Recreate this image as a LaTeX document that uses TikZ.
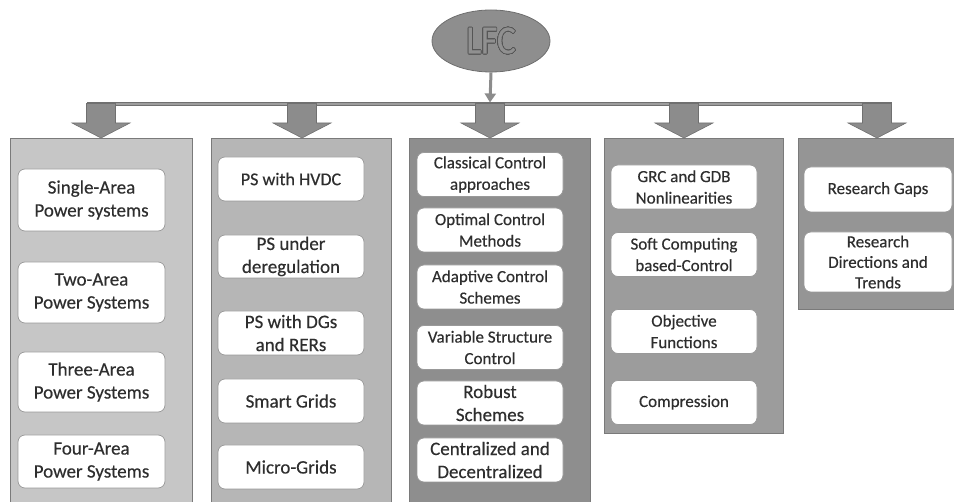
\documentclass[tikz,border=0pt]{standalone}
\usepackage{fontspec}
\setmainfont{Carlito}[FakeBold=0.35]
\usepackage[copies]{contour}
\usetikzlibrary{shapes.geometric,arrows.meta}
\definecolor{txt}{HTML}{2E2E2E}
\definecolor{pone}{HTML}{C6C6C6}
\definecolor{ptwo}{HTML}{B6B6B6}
\definecolor{pthree}{HTML}{8E8E8E}
\definecolor{pfour}{HTML}{9C9C9C}
\definecolor{pfive}{HTML}{959595}
\definecolor{pedge}{HTML}{7A7A7A}
\definecolor{arrowfill}{HTML}{8C8C8C}
\definecolor{arrowedge}{HTML}{707070}
\definecolor{lfcfill}{HTML}{8E8E8E}
\definecolor{lfcedge}{HTML}{6E6E6E}
\definecolor{lfctext}{HTML}{909090}
\definecolor{lfcline}{HTML}{555555}
\contourlength{0.8pt}
\tikzset{
  panel/.style={draw=pedge, line width=0.8pt, anchor=north west, inner sep=0pt},
  item/.style={draw=black!40, fill=white, rounded corners=7pt, line width=0.7pt,
    align=center, text=txt, inner sep=0pt, font=\fontsize{17}{21.5}\selectfont},
  itembig/.style={item, font=\fontsize{19}{23}\selectfont},
  barrow/.style={fill=arrowfill, draw=arrowedge, line width=0.6pt},
  bus/.style={fill=arrowfill!85, draw=arrowedge, line width=0.5pt},
}
\begin{document}
\begin{tikzpicture}[x=1pt,y=-1pt]
\useasboundingbox (0,0) rectangle (954,502);
\clip (0,0) rectangle (954,502);
% root
\node[ellipse, fill=lfcfill, draw=lfcedge, line width=0.8pt, minimum width=118pt, minimum height=62pt, inner sep=0pt] (lfc) at (491,41)
  {\scalebox{0.88}[1]{\fontsize{40}{40}\selectfont\contour{lfcline}{\textcolor{lfctext}{LFC}}}};
% bus
\coordinate (busm) at (490,102.5);
\draw[bus] (87,102.5) rectangle (891,105.5);
\draw[draw=arrowfill, line width=3pt, -{Triangle[width=11pt,length=9pt]}] (lfc.south) -- (busm);
% panels
\node[panel, fill=pone, minimum width=182pt, minimum height=380pt] (p1) at (10,138) {};
\node[panel, fill=ptwo, minimum width=180pt, minimum height=380pt] (p2) at (211,138) {};
\node[panel, fill=pthree, minimum width=181pt, minimum height=380pt] (p3) at (409,138) {};
\node[panel, fill=pfour, minimum width=179pt, minimum height=295pt] (p4) at (604,138) {};
\node[panel, fill=pfive, minimum width=180pt, minimum height=171pt] (p5) at (798,138) {};
% block arrows
\foreach \n/\x in {1/101,2/302,3/490,4/684,5/877}{
  \coordinate (b\n) at (\x,103.5);
  \draw[barrow] (b\n) ++(-14.5,0) -- ++(0,19.5) -- ++(-14.5,0) -- ++(29,15) -- ++(29,-15) -- ++(-14.5,0) -- ++(0,-19.5) -- cycle;
}
% panel 1
\node[itembig, minimum width=147pt, minimum height=62pt] (a1) at (91.5,200) {Single-Area\\Power systems};
\node[itembig, minimum width=147pt, minimum height=61pt] (a2) at (91.5,292.5) {Two-Area\\Power Systems};
\node[itembig, minimum width=147pt, minimum height=60pt] (a3) at (91.5,382) {Three-Area\\Power Systems};
\node[itembig, minimum width=147pt, minimum height=53pt] (a4) at (91.5,461.5) {Four-Area\\Power Systems};
% panel 2
\node[itembig, minimum width=146pt, minimum height=44pt, font=\fontsize{18}{23}\selectfont] (c1) at (291,179) {PS with HVDC};
\node[itembig, minimum width=146pt, minimum height=43pt] (c2) at (291,256.5) {PS under\\deregulation};
\node[itembig, minimum width=146pt, minimum height=44pt] (c3) at (291,333) {PS with DGs\\and RERs};
\node[itembig, minimum width=146pt, minimum height=44pt] (c4) at (291,401) {Smart Grids};
\node[itembig, minimum width=146pt, minimum height=44pt] (c5) at (291,467) {Micro-Grids};
% panel 3
\node[item, minimum width=146pt, minimum height=44pt] (d1) at (490,174.5) {Classical Control\\approaches};
\node[item, minimum width=146pt, minimum height=44pt] (d2) at (490,230) {Optimal Control\\Methods};
\node[item, minimum width=146pt, minimum height=44pt] (d3) at (490,287) {Adaptive Control\\Schemes};
\node[item, minimum width=146pt, minimum height=44pt] (d4) at (490,347.5) {Variable Structure\\Control};
\node[itembig, minimum width=146pt, minimum height=44pt] (d5) at (490,403) {Robust\\Schemes};
\node[itembig, minimum width=146pt, minimum height=44pt] (d6) at (490,460) {Centralized and\\Decentralized};
% panel 4
\node[item, minimum width=146pt, minimum height=44pt] (e1) at (684,187) {GRC and GDB\\Nonlinearities};
\node[item, minimum width=146pt, minimum height=44pt] (e2) at (684,254.5) {Soft Computing\\based-Control};
\node[item, minimum width=146pt, minimum height=44pt] (e3) at (684,331.5) {Objective\\Functions};
\node[item, minimum width=146pt, minimum height=44pt] (e4) at (684,402.5) {Compression};
% panel 5
\node[item, minimum width=148pt, minimum height=45pt] (f1) at (878,189.5) {Research Gaps};
\node[item, minimum width=148pt, minimum height=60pt, font=\fontsize{17}{20.5}\selectfont] (f2) at (878,262) {Research\\Directions and\\Trends};
\end{tikzpicture}
\end{document}
